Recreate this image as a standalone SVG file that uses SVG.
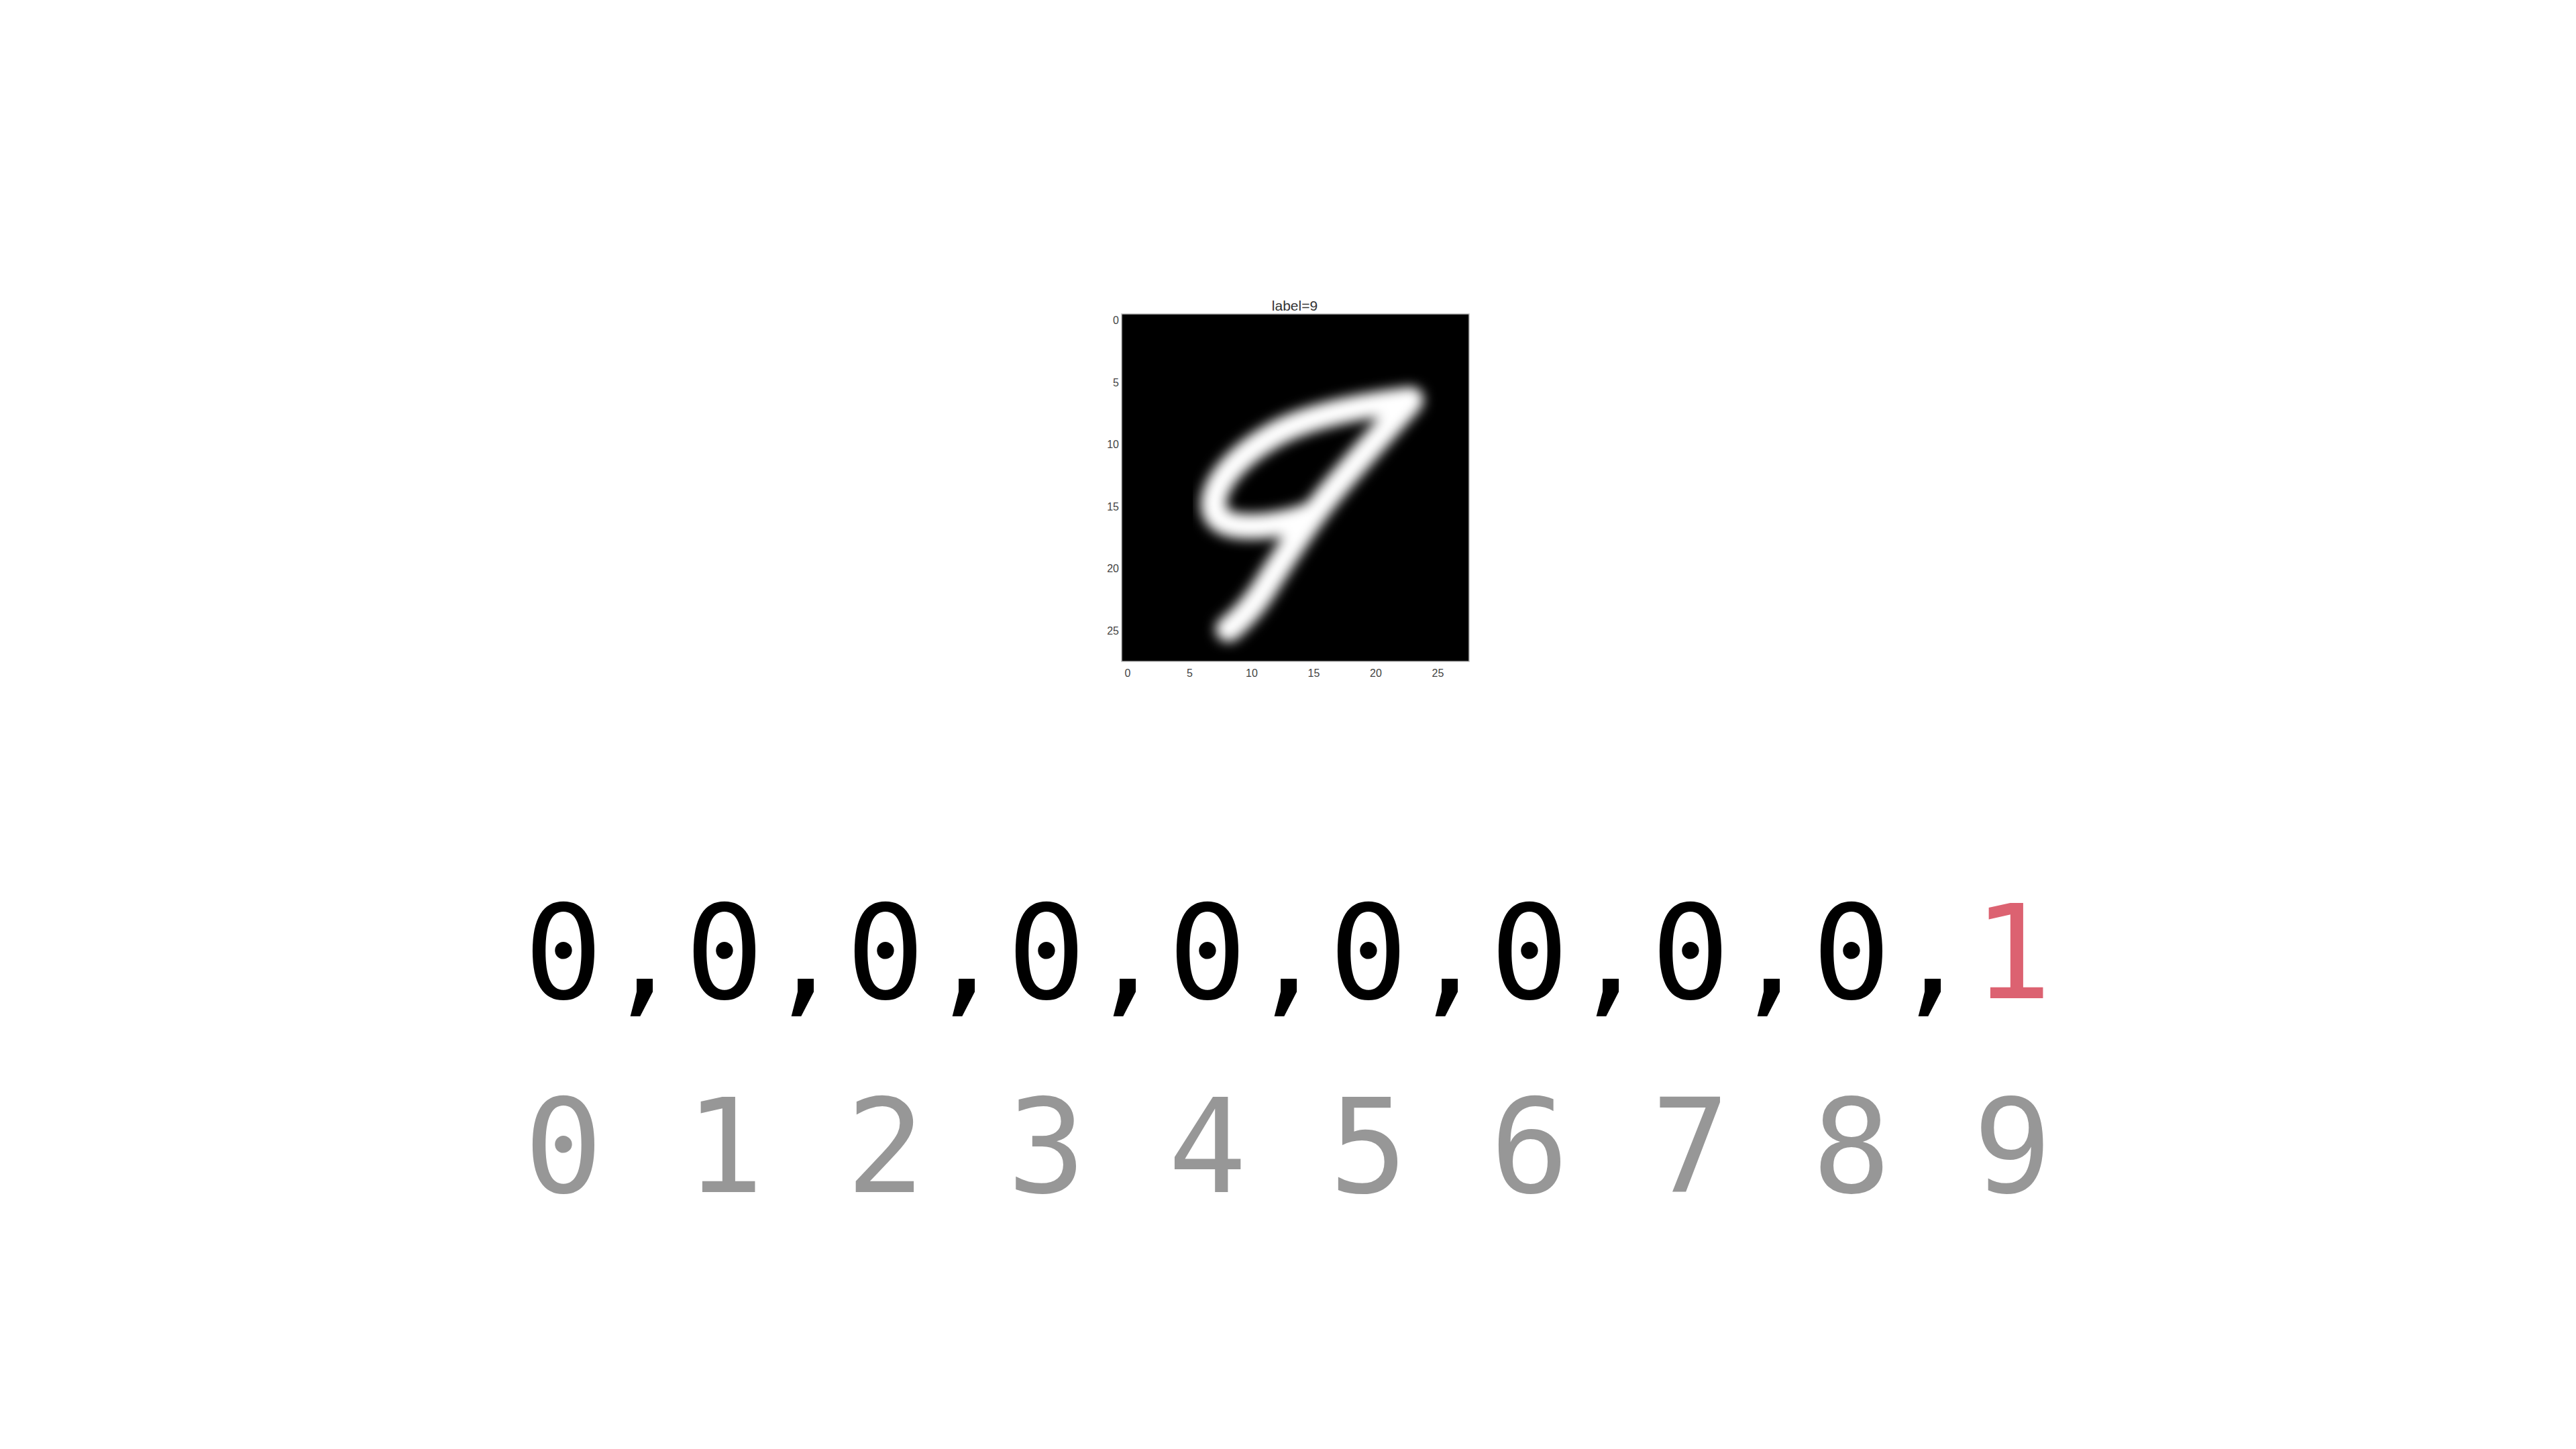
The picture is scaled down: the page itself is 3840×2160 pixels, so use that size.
<svg xmlns="http://www.w3.org/2000/svg" width="3840" height="2160" viewBox="0 0 3840 2160">
  <style>
    .mono { font-family: "DejaVu Sans Mono", "Liberation Mono", monospace; font-size: 195px; text-anchor: middle; }
    .onehot { fill: #000000; }
    .hot { fill: #dc6271; }
    .idx { fill: #979797; }
    .tick { font-family: "Liberation Sans", Arial, sans-serif; font-size: 16px; fill: #444444; }
    .title { font-family: "Liberation Sans", Arial, sans-serif; font-size: 21px; fill: #333333; text-anchor: middle; }
    .stroke9 { fill: none; stroke: #ffffff; stroke-linecap: round; stroke-linejoin: round; stroke-width: 2.05; }
  </style>
  <defs>
    <filter id="blur" x="-10%" y="-10%" width="120%" height="120%">
      <feGaussianBlur stdDeviation="0.5"/>
    </filter>
    <clipPath id="boxclip">
      <rect x="0" y="0" width="28" height="28"/>
    </clipPath>
  </defs>
  <rect x="0" y="0" width="3840" height="2160" fill="#ffffff"/>

  <g id="plot">
    <text class="title" x="1930" y="463">label=9</text>
    <g transform="translate(1672,468) scale(18.5)">
      <rect x="0" y="0" width="28" height="28" fill="#000000"/>
      <g clip-path="url(#boxclip)">
        <g filter="url(#blur)">
          <path class="stroke9" d="M23.3,6.9 C20,7.3 15,8.1 12,9.9 C9.4,11.4 7.5,13.5 7.4,15.3 C7.4,16.9 9,17.2 11,17.1 C12.8,17 14.2,16.6 15.2,16.2"/>
          <path class="stroke9" d="M23.2,7.1 C21.5,9 19,11.8 17,14.2 C15,16.6 13.5,19 12,21.3 C11,23 10,24.3 8.6,25.4"/>
          <circle cx="23.0" cy="7.1" r="1.1" fill="#ffffff"/>
          <circle cx="8.8" cy="25.3" r="1.0" fill="#ffffff"/>
        </g>
      </g>
      <rect x="0" y="0" width="28" height="28" fill="none" stroke="#bbbbbb" stroke-width="0.08"/>
    </g>
    <g class="tick" text-anchor="middle">
      <text x="1681" y="1009">0</text>
      <text x="1773.5" y="1009">5</text>
      <text x="1866" y="1009">10</text>
      <text x="1958.5" y="1009">15</text>
      <text x="2051" y="1009">20</text>
      <text x="2143.5" y="1009">25</text>
    </g>
    <g class="tick" text-anchor="end">
      <text x="1668" y="483">0</text>
      <text x="1668" y="575.5">5</text>
      <text x="1668" y="668">10</text>
      <text x="1668" y="760.5">15</text>
      <text x="1668" y="853">20</text>
      <text x="1668" y="945.5">25</text>
    </g>
  </g>

  <g id="onehot-vector">
    <text class="mono onehot" y="1488" x="840 960 1080 1200 1320 1440 1560 1680 1800 1920 2040 2160 2280 2400 2520 2640 2760 2880">0,0,0,0,0,0,0,0,0,</text>
    <text class="mono hot" x="3000" y="1488">1</text>
  </g>

  <g id="index-row">
    <text class="mono idx" y="1777" x="840 1080 1320 1560 1800 2040 2280 2520 2760 3000">0123456789</text>
  </g>
</svg>
